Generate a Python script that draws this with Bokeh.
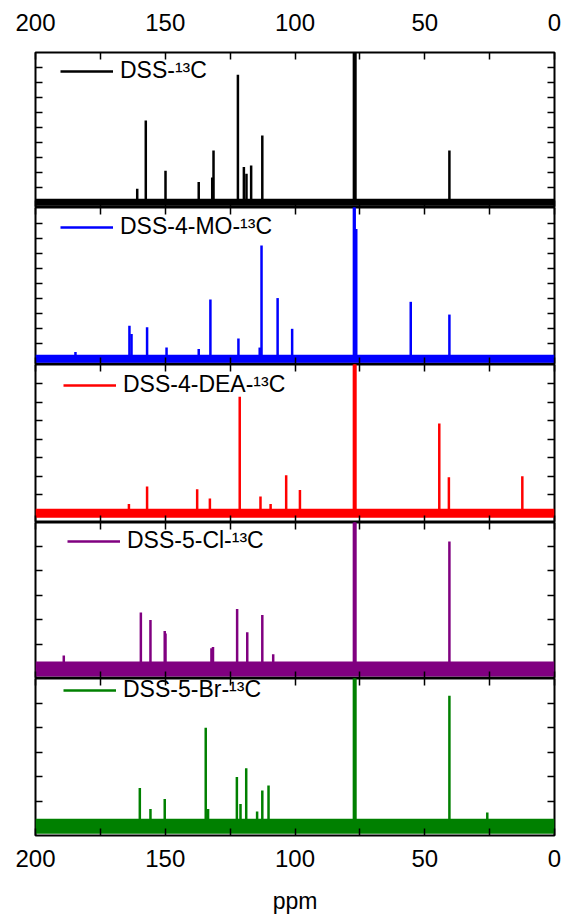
from bokeh.plotting import figure
from bokeh.layouts import column
from bokeh.models import Range1d, LinearAxis, FixedTicker, Legend, LegendItem, ColumnDataSource
from bokeh.embed import file_html
from bokeh.resources import INLINE

# ---------------- data ----------------
ppm_major = [200, 150, 100, 50, 0]
ppm_minor = [175, 125, 75, 25]
ppm_span = [200, 0]

labels = ["DSS-\u00b9\u00b3C", "DSS-4-MO-\u00b9\u00b3C", "DSS-4-DEA-\u00b9\u00b3C",
          "DSS-5-Cl-\u00b9\u00b3C", "DSS-5-Br-\u00b9\u00b3C"]
colors = ["#000000", "#0000FF", "#FF0000", "#800080", "#008000"]

dss_ppm = [160.8, 157.5, 149.9, 137.1, 131.9, 131.4, 122.0, 119.7, 118.7, 116.9, 112.6,
           77.3, 77.0, 76.7, 40.5]
dss_int = [0.9, 5.45, 2.1, 1.35, 1.65, 3.45, 8.5, 2.35, 1.9, 2.45, 4.45,
           12.0, 12.0, 12.0, 3.45]

mo_ppm = [184.6, 163.8, 163.0, 157.0, 149.5, 137.1, 132.6, 121.8, 113.6, 112.9, 106.7,
          101.1, 77.3, 77.0, 76.4, 55.4, 40.5]
mo_int = [0.45, 2.2, 1.65, 2.1, 0.75, 0.65, 3.95, 1.35, 0.75, 7.55, 4.05,
          2.0, 12.0, 12.0, 8.65, 3.8, 2.95]

dea_ppm = [164.0, 157.0, 137.7, 132.8, 121.3, 113.3, 109.4, 103.4, 98.1,
           77.3, 77.0, 76.7, 44.4, 40.7, 12.4]
dea_int = [0.5, 1.45, 1.3, 0.8, 6.3, 0.9, 0.5, 2.05, 1.25,
           10.0, 10.0, 10.0, 4.85, 1.95, 2.0]

cl_ppm = [189.1, 159.4, 155.7, 150.2, 149.9, 132.2, 131.6, 122.3, 118.4, 112.6, 108.4,
          77.3, 77.0, 76.7, 40.5]
cl_int = [0.55, 2.3, 2.0, 1.55, 1.45, 0.85, 0.9, 2.45, 1.5, 2.2, 0.6,
          8.0, 8.0, 8.0, 5.2]

br_ppm = [159.8, 155.7, 150.2, 134.4, 133.5, 122.4, 121.0, 118.8, 114.6, 112.6, 110.2,
          77.3, 77.0, 76.7, 40.5, 25.9]
br_int = [1.55, 0.7, 1.1, 4.0, 0.7, 2.0, 0.9, 2.35, 0.6, 1.45, 1.65,
          8.0, 8.0, 8.0, 5.3, 0.55]

spectra_ppm = [dss_ppm, mo_ppm, dea_ppm, cl_ppm, br_ppm]
spectra_int = [dss_int, mo_int, dea_int, cl_int, br_int]

y_lows = [-0.35, -0.38, -0.5, -0.39, -0.38]
y_highs = [9.98, 10.09, 8.04, 5.98, 6.0]
y_ticks = [list(range(1, 10)), list(range(1, 10)), list(range(1, 8)),
           list(range(1, 6)), list(range(1, 6))]

# ---------------- layout / style ----------------
FONT = "Liberation Sans"
frame_h = [155, 157, 158, 156, 157]
noise_w = [7, 8, 9, 15, 15]
leg_x = [25, 25, 28, 32, 28]
leg_dy = [20, 21, 22, 20, 13]


def ppm_axis(labels_on):
    ax = LinearAxis(ticker=FixedTicker(ticks=ppm_major, minor_ticks=ppm_minor))
    ax.major_tick_in = 7
    ax.major_tick_out = 0
    ax.minor_tick_in = 7
    ax.minor_tick_out = 0
    ax.major_tick_line_width = 1.5
    ax.minor_tick_line_width = 1.5
    ax.axis_line_color = None
    if labels_on:
        ax.major_label_text_font = FONT
        ax.major_label_text_font_size = "24px"
        ax.major_label_text_color = "black"
        ax.major_label_text_line_height = 1.0
    else:
        ax.major_label_text_font_size = "0px"
        ax.major_label_text_color = None
        ax.major_label_standoff = 0
    return ax


def y_axis(ticks):
    ax = LinearAxis(ticker=FixedTicker(ticks=ticks, minor_ticks=[]))
    ax.major_tick_in = 7
    ax.major_tick_out = 0
    ax.minor_tick_in = 0
    ax.minor_tick_out = 0
    ax.major_tick_line_width = 1.5
    ax.axis_line_color = None
    ax.major_label_text_font_size = "0px"
    ax.major_label_text_color = None
    ax.major_label_standoff = 0
    return ax


figs = []
for i in range(5):
    top_b = 52 if i == 0 else 0
    bot_b = 82 if i == 4 else 0
    p = figure(width=566, height=frame_h[i] + top_b + bot_b,
               x_range=Range1d(ppm_span[0], ppm_span[1]),
               y_range=Range1d(y_lows[i], y_highs[i]),
               output_backend="svg", toolbar_location=None,
               x_axis_location=None, y_axis_location=None,
               min_border_left=35, min_border_right=12,
               min_border_top=top_b, min_border_bottom=bot_b)
    p.xgrid.visible = False
    p.ygrid.visible = False
    p.outline_line_color = "black"
    p.outline_line_width = 2
    p.background_fill_color = "white"
    p.border_fill_color = "white"

    # top axis
    ax_top = ppm_axis(i == 0)
    if i == 0:
        ax_top.major_label_standoff = 22
    p.add_layout(ax_top, "above")
    # bottom axis
    ax_bot = ppm_axis(i == 4)
    if i == 4:
        ax_bot.major_label_standoff = 14
        ax_bot.axis_label = "ppm"
        ax_bot.axis_label_text_font = FONT
        ax_bot.axis_label_text_font_size = "23px"
        ax_bot.axis_label_text_font_style = "normal"
        ax_bot.axis_label_text_color = "black"
        ax_bot.axis_label_text_line_height = 1.0
        ax_bot.axis_label_standoff = 18
    p.add_layout(ax_bot, "below")
    p.add_layout(y_axis(y_ticks[i]), "left")
    p.add_layout(y_axis(y_ticks[i]), "right")

    # baseline (noise band)
    p.line(x=ppm_span, y=[0, 0], line_color=colors[i], line_width=noise_w[i])
    # peaks
    src = ColumnDataSource(dict(x=spectra_ppm[i], top=spectra_int[i],
                                base=[0] * len(spectra_ppm[i])))
    seg = p.segment(x0="x", y0="base", x1="x", y1="top", source=src,
                    line_color=colors[i], line_width=2.5)

    leg = Legend(items=[LegendItem(label=labels[i], renderers=[seg])],
                 location=(leg_x[i], frame_h[i] - leg_dy[i] - 12),
                 glyph_width=53, glyph_height=24, label_height=24,
                 label_standoff=7, padding=0, margin=0, spacing=0,
                 border_line_color=None, background_fill_alpha=0,
                 label_text_font=FONT, label_text_font_size="23px",
                 label_text_color="black")
    p.add_layout(leg)
    figs.append(p)

layout = column(*figs, spacing=0)
open("out.html", "w").write(file_html(layout, INLINE))
